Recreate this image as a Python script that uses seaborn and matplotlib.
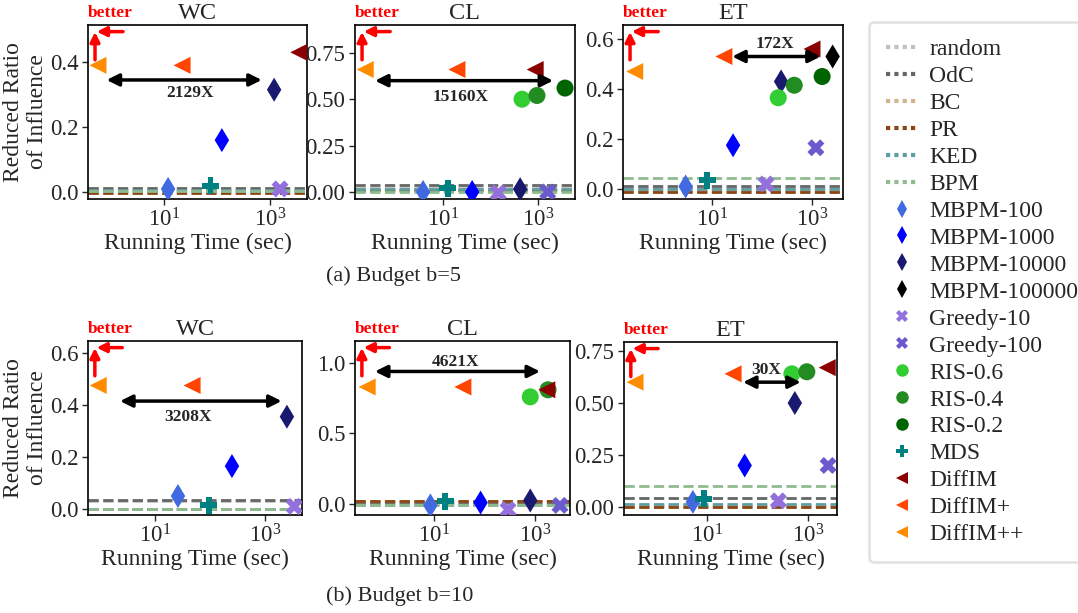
import numpy as np
import pandas as pd
import matplotlib
matplotlib.use('Agg')
import matplotlib.pyplot as plt
import seaborn as sns
from matplotlib.lines import Line2D
from matplotlib.ticker import NullLocator

sns.set_style('ticks')
plt.rcParams['font.family'] = ['Liberation Serif', 'DejaVu Serif']
plt.rcParams['mathtext.fontset'] = 'stix'

nan = np.nan

# methods (scatter) and baselines (dashed lines)
methods = ['MBPM-100', 'MBPM-1000', 'MBPM-10000', 'MBPM-100000', 'Greedy-10', 'Greedy-100',
           'RIS-0.6', 'RIS-0.4', 'RIS-0.2', 'MDS', 'DiffIM', 'DiffIM+', 'DiffIM++']
method_colors = ['royalblue', 'blue', 'midnightblue', 'black', 'mediumpurple', 'slateblue',
                 'limegreen', 'forestgreen', 'darkgreen', 'teal', 'darkred', 'orangered', 'darkorange']
method_markers = ['d', 'd', 'd', 'd', 'X', 'X', 'o', 'o', 'o', 'P', '<', '<', '<']

baselines = ['random', 'OdC', 'BC', 'PR', 'KED', 'BPM']
base_colors = ['#c0c0c0', '#666666', '#d2b48c', '#8b4513', '#5f9ea0', '#8fbc8f']

# budget b=5
wc5_time = [12, 124, 1200, nan, 1550, nan, nan, nan, nan, 76, 3500, 22, 0.57]
wc5_ratio = [0.01, 0.16, 0.315, nan, 0.01, nan, nan, nan, nan, 0.02, 0.43, 0.39, 0.39]
wc5_base = [0.008, 0.012, 0.0, -0.003, 0.006, 0.003]

cl5_time = [3.8, 41, 420, nan, 145, 1600, 460, 950, 3700, 12.7, 870, 19.6, 0.23]
cl5_ratio = [0.0, 0.0, 0.015, nan, -0.005, 0.0, 0.50, 0.52, 0.56, 0.02, 0.66, 0.66, 0.66]
cl5_base = [0.02, 0.035, 0.01, 0.01, 0.015, 0.0]

et5_time = [2.9, 26, 240, 2600, 120, 1200, 210, 440, 1600, 7.9, 1000, 17, 0.275]
et5_ratio = [0.01, 0.175, 0.43, 0.53, 0.02, 0.165, 0.365, 0.415, 0.45, 0.035, 0.56, 0.53, 0.47]
et5_base = [0.005, 0.012, -0.008, -0.012, 0.0, 0.045]

# budget b=10
wc10_time = [26, 250, 2500, nan, 3400, nan, nan, nan, nan, 95, nan, 47, 0.92]
wc10_ratio = [0.05, 0.165, 0.355, nan, 0.01, nan, nan, nan, nan, 0.015, nan, 0.475, 0.475]
wc10_base = [0.03, 0.033, 0.0, 0.0, 0.0, 0.0]

cl10_time = [8.4, 83, 800, nan, 290, 3100, 800, 1800, nan, 16.5, 1700, 37, 0.47]
cl10_ratio = [-0.01, 0.01, 0.025, nan, -0.04, -0.01, 0.76, 0.81, nan, 0.02, 0.81, 0.83, 0.83]
cl10_base = [0.01, 0.015, 0.02, 0.022, -0.01, -0.01]

et10_time = [5.3, 56, 550, nan, 260, 2500, 480, 950, nan, 8.7, 2400, 33, 0.38]
et10_ratio = [0.025, 0.20, 0.50, nan, 0.03, 0.20, 0.64, 0.65, nan, 0.04, 0.67, 0.64, 0.60]
et10_base = [0.012, 0.045, 0.005, 0.0, 0.015, 0.10]

# speedup arrows: (start, end, y), label and label position
speedup = {
    'wc5': ((0.83, 700, 0.345), '2129X', (31, 0.305)),
    'cl5': ((0.37, 2080, 0.60), '15160X', (23, 0.51)),
    'et5': ((25, 1500, 0.53), '172X', (182, 0.578)),
    'wc10': ((2.3, 2000, 0.415), '3208X', (40, 0.354)),
    'cl10': ((0.67, 1250, 0.94), '4621X', (27, 1.01)),
    'et10': ((52, 720, 0.60), '30X', (148, 0.66)),
}

W, H = 1078, 613
fig = plt.figure(figsize=(W / 100, H / 100), dpi=100)

panels = [
    ('wc5', 'WC', wc5_time, wc5_ratio, wc5_base, (88, 25, 307, 199), (0.37, 5000), (-0.021, 0.514), [0.0, 0.2, 0.4], '{:.1f}'),
    ('cl5', 'CL', cl5_time, cl5_ratio, cl5_base, (355, 25, 575, 199), (0.14, 6000), (-0.038, 0.90), [0.0, 0.25, 0.5, 0.75], '{:.2f}'),
    ('et5', 'ET', et5_time, et5_ratio, et5_base, (623, 25, 843, 199), (0.16, 4200), (-0.04, 0.656), [0.0, 0.2, 0.4, 0.6], '{:.1f}'),
    ('wc10', 'WC', wc10_time, wc10_ratio, wc10_base, (88, 341, 302, 515), (0.6, 4700), (-0.023, 0.646), [0.0, 0.2, 0.4, 0.6], '{:.1f}'),
    ('cl10', 'CL', cl10_time, cl10_ratio, cl10_base, (355, 341, 570, 515), (0.27, 4900), (-0.078, 1.156), [0.0, 0.5, 1.0], '{:.1f}'),
    ('et10', 'ET', et10_time, et10_ratio, et10_base, (624, 342, 837, 515), (0.23, 3750), (-0.038, 0.793), [0.0, 0.25, 0.5, 0.75], '{:.2f}'),
]

palette = dict(zip(methods, method_colors))
marker_map = dict(zip(methods, method_markers))

for key, title, times, ratios, base, (x0, y0, x1, y1), xlim, ylim, yticks, fmt in panels:
    ax = fig.add_axes([x0 / W, 1 - y1 / H, (x1 - x0) / W, (y1 - y0) / H])
    for val, c in zip(base, base_colors):
        ax.axhline(val, color=c, ls='--', lw=2, zorder=2)
    df = pd.DataFrame({'method': methods, 'time': times, 'ratio': ratios}).dropna()
    sns.scatterplot(data=df, x='time', y='ratio', hue='method', style='method',
                    palette=palette, markers=marker_map, s=150, linewidth=0,
                    legend=False, ax=ax, zorder=3)
    ax.set_xscale('log')
    ax.set_xlim(*xlim)
    ax.set_ylim(*ylim)
    ax.set_xticks([10, 1000])
    ax.xaxis.set_minor_locator(NullLocator())
    ax.set_yticks(yticks)
    ax.set_yticklabels([fmt.format(v) for v in yticks])
    ax.tick_params(labelsize=16.5, length=4, width=1, pad=3)
    for sp in ax.spines.values():
        sp.set_linewidth(1.2)
        sp.set_color('black')
    ax.set_title(title, fontsize=17.5, pad=4)
    ax.set_xlabel('Running Time (sec)', fontsize=17, labelpad=1)
    if key.startswith('wc'):
        ax.set_ylabel('Reduced Ratio\nof Influence', fontsize=17, labelpad=1)
    else:
        ax.set_ylabel('')

    (xa, xb, ya), label, (tx, ty) = speedup[key]
    ax.annotate('', xy=(xb, ya), xytext=(xa, ya),
                arrowprops=dict(arrowstyle='<|-|>', color='black', lw=2.5,
                                mutation_scale=18, shrinkA=0, shrinkB=0), zorder=4)
    ax.text(tx, ty, label, ha='center', va='center', fontsize=12.5, fontweight='bold')

    # "better" hint
    ax.text(0.0, 1.07, 'better', transform=ax.transAxes, color='red', fontweight='bold',
            fontsize=12.5, ha='left', va='center')
    ax.annotate('', xy=(0.032, 0.96), xytext=(0.032, 0.80), xycoords='axes fraction',
                arrowprops=dict(arrowstyle='-|>', color='red', lw=2.5, mutation_scale=14,
                                shrinkA=0, shrinkB=0), annotation_clip=False)
    ax.annotate('', xy=(0.04, 0.962), xytext=(0.16, 0.962), xycoords='axes fraction',
                arrowprops=dict(arrowstyle='-|>', color='red', lw=2.5, mutation_scale=14,
                                shrinkA=0, shrinkB=0), annotation_clip=False)

fig.text(393 / W, 1 - 276 / H, '(a) Budget b=5', ha='center', va='center', fontsize=16)
fig.text(400 / W, 1 - 596 / H, '(b) Budget b=10', ha='center', va='center', fontsize=16)

handles = [Line2D([], [], color=c, ls=(0, (1, 1)), lw=3) for c in base_colors]
handles += [Line2D([], [], color=c, marker=m, ls='none', markersize=9, markeredgewidth=0)
            for c, m in zip(method_colors, method_markers)]
leg = fig.legend(handles, baselines + methods, loc='upper left',
                 bbox_to_anchor=(869 / W, 1 - 22 / H), fontsize=17, frameon=True,
                 fancybox=True, edgecolor='#dddddd', labelspacing=0.23,
                 handlelength=1.4, handletextpad=0.45, borderpad=0.7, borderaxespad=0)
leg.get_frame().set_linewidth(2)

fig.savefig('out.png', dpi=100)
